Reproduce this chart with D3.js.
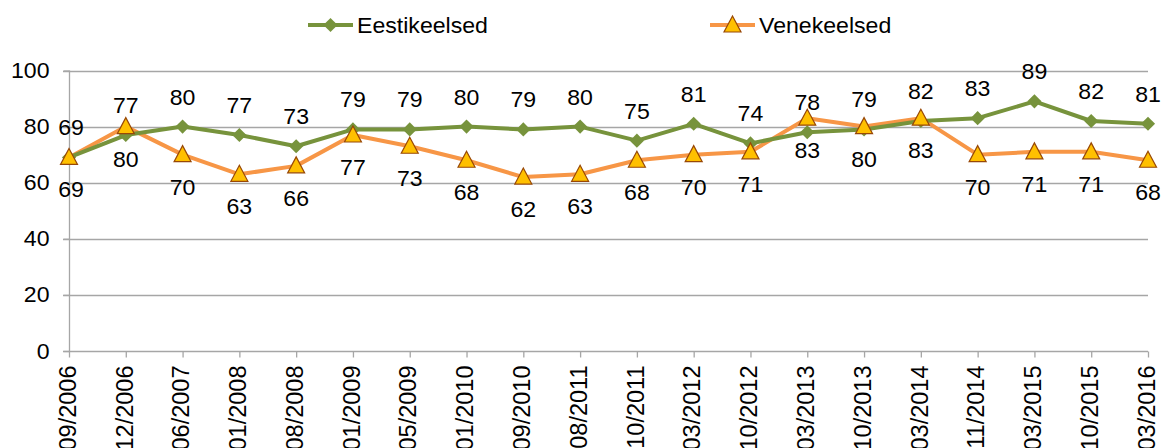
<!DOCTYPE html>
<html><head><meta charset="utf-8">
<script src="https://cdn.jsdelivr.net/npm/d3@7"></script>
<style>body{margin:0;background:#fff}svg{display:block;font-family:"Liberation Sans",Arial,sans-serif}</style>
</head><body><svg id="c" width="1165" height="448"></svg>
<script>
const categories = ["09/2006","12/2006","06/2007","01/2008","08/2008","01/2009","05/2009","01/2010","09/2010","08/2011","10/2011","03/2012","10/2012","03/2013","10/2013","03/2014","11/2014","03/2015","10/2015","03/2016"];
const eesti = [69,77,80,77,73,79,79,80,79,80,75,81,74,78,79,82,83,89,82,81];
const vene  = [69,80,70,63,66,77,73,68,62,63,68,70,71,83,80,83,70,71,71,68];
const yTicks = [0,20,40,60,80,100];
const seriesNames = ["Eestikeelsed","Venekeelsed"];

const svg = d3.select("#c");
const x = d3.scalePoint().domain(categories).range([69,1148]);
const y = d3.scaleLinear().domain([0,100]).range([351,70.5]);
const grid = "#a6a6a6";
const green = "#77933C", orange = "#F79646", triFill = "#FFC000", triStroke = "#984807";
const FS = 22, SX = 1.05;

// gridlines
svg.append("g").selectAll("line").data(yTicks.filter(d=>d>0)).join("line")
  .attr("x1",63).attr("x2",1148).attr("y1",d=>Math.round(y(d))+0.5).attr("y2",d=>Math.round(y(d))+0.5)
  .attr("stroke",grid).attr("stroke-width",1.3);

// y axis
const ya = svg.append("g").attr("transform","translate(69.5,0)")
  .call(d3.axisLeft(y).tickValues(yTicks).tickSize(6).tickPadding(13).tickFormat(d3.format("d")));
ya.select(".domain").attr("stroke",grid).attr("stroke-width",1.3).attr("d","M0,70.5V351");
ya.selectAll(".tick line").attr("stroke",grid).attr("stroke-width",1.3);
ya.selectAll(".tick text").attr("font-size",FS).attr("fill","#000").attr("font-family","Liberation Sans, Arial")
  .attr("x",null).attr("transform",`translate(-20,0) scale(${SX},1)`);

// x axis
const xa = svg.append("g").attr("transform","translate(0,351.5)")
  .call(d3.axisBottom(x).tickSize(6).tickSizeOuter(0));
xa.select(".domain").attr("stroke",grid).attr("stroke-width",1.3).attr("d","M63,0H1148");
xa.selectAll(".tick line").attr("stroke",grid).attr("stroke-width",1.3);
xa.selectAll(".tick text").attr("font-size",23.5).attr("fill","#000").attr("font-family","Liberation Sans, Arial")
  .attr("transform","rotate(-90)").attr("text-anchor","end").attr("x",-14).attr("y",-2).attr("dy","0.35em");

const line = d3.line().x((d,i)=>x(categories[i])).y(d=>y(d));
svg.append("path").datum(vene).attr("d",line).attr("fill","none").attr("stroke",orange).attr("stroke-width",4).attr("stroke-linejoin","round");
svg.append("path").datum(eesti).attr("d",line).attr("fill","none").attr("stroke",green).attr("stroke-width",4).attr("stroke-linejoin","round");

const diamond = d3.symbol().type(d3.symbolSquare).size(100)();
const tri = "M0,-9L8.5,7H-8.5Z";

svg.append("g").selectAll("path").data(eesti).join("path")
  .attr("d",diamond).attr("transform",(d,i)=>`translate(${x(categories[i])},${y(d)}) rotate(45)`).attr("fill",green);
svg.append("g").selectAll("path").data(vene).join("path")
  .attr("d",tri).attr("transform",(d,i)=>`translate(${x(categories[i])},${y(d)})`).attr("fill",triFill).attr("stroke",triStroke).attr("stroke-width",1.2);

// labels
svg.append("g").selectAll("text").data(eesti).join("text")
  .attr("transform",(d,i)=>`translate(${x(categories[i]) + (i===0?2:0)},${y(d)-22}) scale(${SX},1)`).attr("text-anchor","middle")
  .attr("font-size",FS).text(d=>d);
svg.append("g").selectAll("text").data(vene).join("text")
  .attr("transform",(d,i)=>`translate(${x(categories[i]) + (i===0?2:0)},${y(d)+40}) scale(${SX},1)`).attr("text-anchor","middle")
  .attr("font-size",FS).text(d=>d);

// legend
const leg = [{n:seriesNames[0],x:308,c:green,m:"d"},{n:seriesNames[1],x:710,c:orange,m:"t"}];
const lg = svg.append("g").selectAll("g").data(leg).join("g").attr("transform",d=>`translate(${d.x},25)`);
lg.append("line").attr("x1",0).attr("x2",45).attr("stroke",d=>d.c).attr("stroke-width",4);
lg.filter(d=>d.m==="d").append("path").attr("d",diamond).attr("transform","translate(22.5,0) rotate(45)").attr("fill",green);
lg.filter(d=>d.m==="t").append("path").attr("d",tri).attr("transform","translate(22.5,0)").attr("fill",triFill).attr("stroke",triStroke).attr("stroke-width",1.2);
lg.append("text").attr("transform",`translate(49,0) scale(${SX},1)`).attr("dy","0.35em").attr("font-size",FS).text(d=>d.n);
</script></body></html>
